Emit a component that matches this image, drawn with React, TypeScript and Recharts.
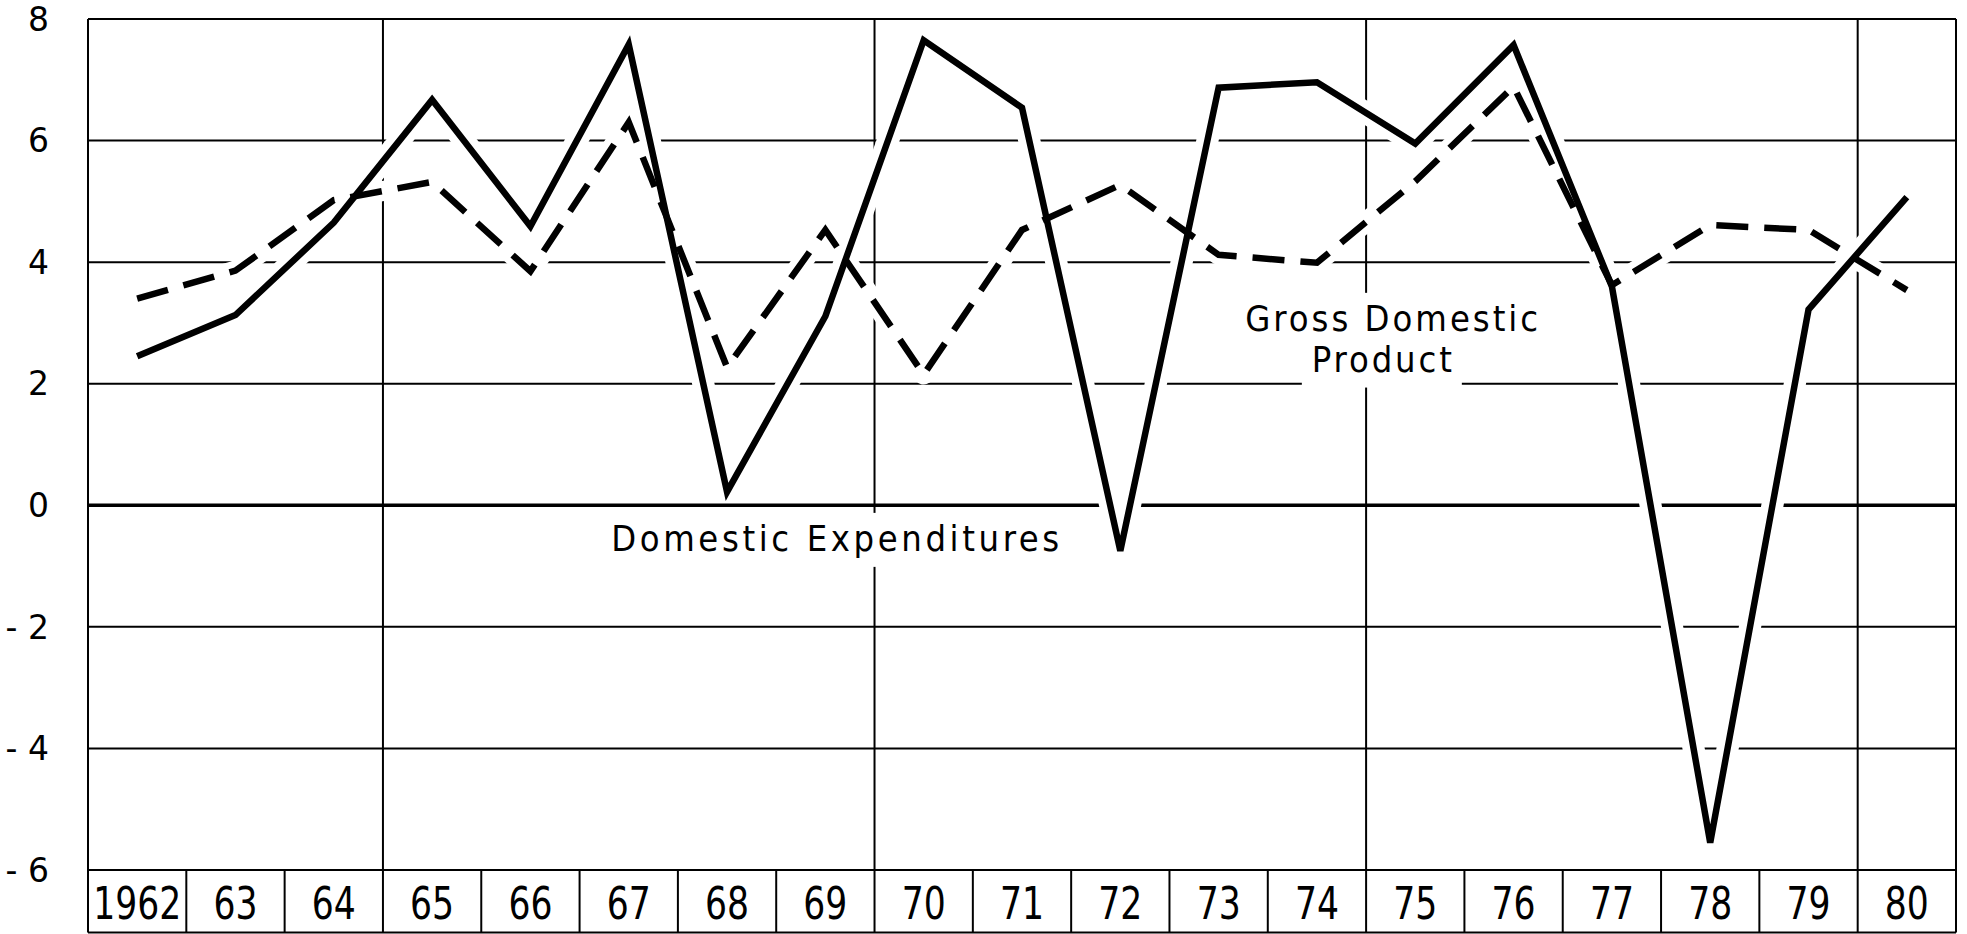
import { LineChart, Line, XAxis, YAxis, CartesianGrid, ReferenceLine, ReferenceDot } from "recharts";

// annual % change, 1962-1980
const years = ["1962", "63", "64", "65", "66", "67", "68", "69", "70", "71", "72", "73", "74", "75", "76", "77", "78", "79", "80"];
const domesticExpenditures = [2.45, 3.13, 4.65, 6.67, 4.59, 7.58, 0.22, 3.11, 7.65, 6.54, -0.75, 6.87, 6.96, 5.95, 7.57, 3.6, -5.55, 3.22, 5.07];
const grossDomesticProduct = [3.4, 3.86, 5.02, 5.32, 3.85, 6.3, 2.27, 4.53, 2.15, 4.53, 5.27, 4.12, 3.99, 5.33, 6.89, 3.62, 4.61, 4.53, 3.54];
const yTicks = [-6, -4, -2, 0, 2, 4, 6, 8];

// grid structure in year-index units
const yearIndex = years.map((_, i) => i);
const groupBreaks = [2.5, 7.5, 12.5, 17.5];
const cellEdges = [-0.5, ...yearIndex.map((i) => i + 0.5)];
const LABEL_ROW_BOTTOM = -7.03;

const data = years.map((label, i) => ({
  idx: i,
  label,
  domestic: domesticExpenditures[i],
  gdp: grossDomesticProduct[i],
}));

const INK = "#000";
const condensed = "'DejaVu Sans Condensed', 'DejaVu Sans', sans-serif";
const regular = "'DejaVu Sans', sans-serif";

const YearTick = (props: any) => {
  const { x, y, payload } = props;
  const text = years[payload.value] ?? "";
  return (
    <text
      x={x}
      y={y + 49}
      textAnchor="middle"
      textLength={text.length * 22}
      lengthAdjust="spacingAndGlyphs"
      fontFamily={condensed}
      fontSize={44}
      fill={INK}
    >
      {text}
    </text>
  );
};

const note = (text: string, width: number) => (props: any) => {
  const vb = props.viewBox || {};
  const cx = (vb.x ?? 0) + (vb.width ?? 0) / 2;
  const cy = (vb.y ?? 0) + (vb.height ?? 0) / 2;
  return (
    <g>
      <rect x={cx - width / 2 - 10} y={cy - 38} width={width + 20} height={54} fill="#fff" />
      <text
        x={cx}
        y={cy}
        textAnchor="middle"
        textLength={width}
        lengthAdjust="spacing"
        fontFamily={condensed}
        fontSize={36}
        fill={INK}
      >
        {text}
      </text>
    </g>
  );
};

export default function App() {
  return (
    <div style={{ position: "absolute", left: 0, top: 0, background: "#fff" }}>
      <LineChart width={1967} height={934} data={data} margin={{ top: 19, right: 11, bottom: 2, left: 0 }}>
        <CartesianGrid vertical={false} stroke={INK} strokeWidth={2} />
        {groupBreaks.map((b) => (
          <ReferenceLine key={`grp-${b}`} x={b} stroke={INK} strokeWidth={2} zIndex={-50} />
        ))}
        <ReferenceLine y={0} stroke={INK} strokeWidth={3.5} zIndex={-50} />
        <XAxis
          type="number"
          dataKey="idx"
          domain={[-0.5, 18.5]}
          ticks={yearIndex}
          interval={0}
          height={62}
          tickSize={0}
          tickMargin={0}
          axisLine={false}
          tick={<YearTick />}
        />
        <YAxis
          type="number"
          domain={[-6, 8]}
          ticks={yTicks}
          width={88}
          tickSize={0}
          tickMargin={39}
          axisLine={false}
          tickFormatter={(v: number) => (v < 0 ? `- ${Math.abs(v)}` : `${v}`)}
          tick={{ fill: INK, fontSize: 33, fontFamily: regular }}
        />

        {/* white halos break the grid where the curves cross it */}
        <Line dataKey="domestic" stroke="#fff" strokeWidth={22} strokeLinejoin="round" dot={false} activeDot={false} isAnimationActive={false} />
        <Line dataKey="gdp" stroke="#fff" strokeWidth={20} strokeLinejoin="round" dot={false} activeDot={false} isAnimationActive={false} />
        <Line dataKey="domestic" stroke={INK} strokeWidth={6.5} dot={false} activeDot={false} isAnimationActive={false} />
        <Line dataKey="gdp" stroke={INK} strokeWidth={6.5} strokeDasharray="32 16" dot={false} activeDot={false} isAnimationActive={false} />

        {/* label boxes under the plot */}
        {cellEdges.map((e) => (
          <ReferenceLine
            key={`edge-${e}`}
            segment={[
              { x: e, y: e === -0.5 || e === 18.5 ? 8 : -6 },
              { x: e, y: LABEL_ROW_BOTTOM },
            ]}
            stroke={INK}
            strokeWidth={2}
            ifOverflow="visible"
          />
        ))}
        <ReferenceLine
          segment={[
            { x: -0.5, y: LABEL_ROW_BOTTOM },
            { x: 18.5, y: LABEL_ROW_BOTTOM },
          ]}
          stroke={INK}
          strokeWidth={2}
          ifOverflow="visible"
        />

        <ReferenceDot x={7.1} y={-0.75} r={1} fill="none" stroke="none" label={note("Domestic Expenditures", 448)} />
        <ReferenceDot x={12.76} y={2.87} r={1} fill="none" stroke="none" label={note("Gross Domestic", 293)} />
        <ReferenceDot x={12.66} y={2.2} r={1} fill="none" stroke="none" label={note("Product", 140)} />
      </LineChart>
    </div>
  );
}
